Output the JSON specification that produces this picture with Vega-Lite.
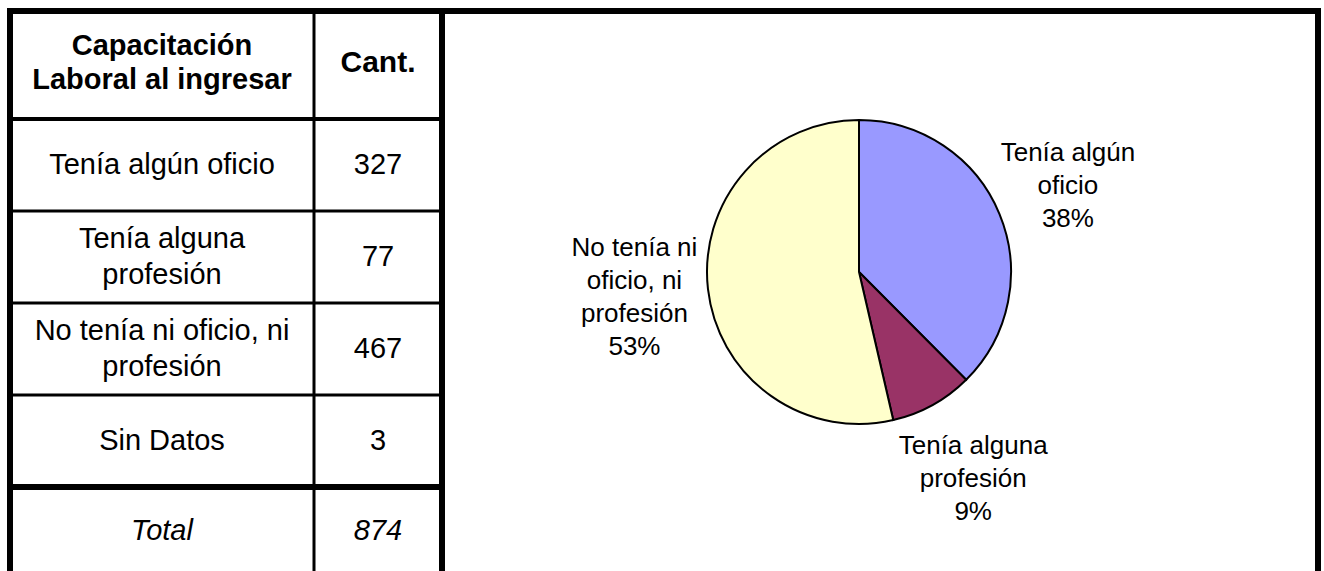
{
  "$schema": "https://vega.github.io/schema/vega-lite/v6.json",
  "padding": {"left": 5, "top": 6, "right": 5, "bottom": 0},
  "background": "white",
  "config": {"view": {"stroke": null}, "font": "Liberation Sans", "text": {"color": "black"}},
  "datasets": {
    "tabla": [
      {"capacitacion": "Tenía algún oficio", "texto": "Tenía algún oficio", "cant": 327},
      {"capacitacion": "Tenía alguna profesión", "texto": "Tenía alguna\nprofesión", "cant": 77},
      {"capacitacion": "No tenía ni oficio, ni profesión", "texto": "No tenía ni oficio, ni\nprofesión", "cant": 467},
      {"capacitacion": "Sin Datos", "texto": "Sin Datos", "cant": 3},
      {"capacitacion": "Total", "texto": "Total", "cant": 874}
    ],
    "torta": [
      {"capacitacion": "Tenía algún oficio", "cant": 327, "orden": 1, "etiqueta": "Tenía algún\noficio\n38%"},
      {"capacitacion": "Tenía alguna profesión", "cant": 77, "orden": 2, "etiqueta": "Tenía alguna\nprofesión\n9%"},
      {"capacitacion": "No tenía ni oficio, ni profesión", "cant": 467, "orden": 3, "etiqueta": "No tenía ni\noficio, ni\nprofesión\n53%"}
    ],
    "encabezados": [
      {"col1": "Capacitación\nLaboral al ingresar", "col2": "Cant."}
    ],
    "marco": [{}]
  },
  "columns": 3,
  "spacing": 0,
  "bounds": "flush",
  "concat": [
    {
      "width": 304,
      "height": 108,
      "data": {"name": "encabezados"},
      "layer": [
        {"mark": {"type": "rule", "color": "black", "strokeWidth": 6},
         "encoding": {"y": {"datum": 1, "type": "quantitative", "scale": {"domain": [0, 1], "nice": false}, "axis": null}}},
        {"mark": {"type": "rule", "color": "black", "strokeWidth": 4},
         "encoding": {"y": {"datum": 0, "type": "quantitative", "scale": {"domain": [0, 1], "nice": false}, "axis": null}}},
        {"mark": {"type": "rule", "color": "black", "strokeWidth": 6, "strokeCap": "square"},
         "encoding": {"x": {"datum": 0, "type": "quantitative", "scale": {"domain": [0, 1], "nice": false}, "axis": null}}},
        {"mark": {"type": "rule", "color": "black", "strokeWidth": 3},
         "encoding": {"x": {"datum": 1, "type": "quantitative", "scale": {"domain": [0, 1], "nice": false}, "axis": null}}},
        {"mark": {"type": "text", "fontSize": 29, "fontWeight": "bold", "lineHeight": 34, "lineBreak": "\n", "dy": -19},
         "encoding": {"text": {"field": "col1"}}}
      ]
    },
    {
      "width": 128,
      "height": 108,
      "data": {"name": "encabezados"},
      "layer": [
        {"mark": {"type": "rule", "color": "black", "strokeWidth": 6},
         "encoding": {"y": {"datum": 1, "type": "quantitative", "scale": {"domain": [0, 1], "nice": false}, "axis": null}}},
        {"mark": {"type": "rule", "color": "black", "strokeWidth": 4},
         "encoding": {"y": {"datum": 0, "type": "quantitative", "scale": {"domain": [0, 1], "nice": false}, "axis": null}}},
        {"mark": {"type": "text", "fontSize": 30, "fontWeight": "bold", "dy": -2},
         "encoding": {"text": {"field": "col2"}}}
      ]
    },
    {
      "width": 876,
      "height": 108,
      "data": {"name": "marco"},
      "layer": [
        {"mark": {"type": "rule", "color": "black", "strokeWidth": 6},
         "encoding": {"y": {"datum": 1, "type": "quantitative", "scale": {"domain": [0, 1], "nice": false}, "axis": null}}},
        {"mark": {"type": "rule", "color": "black", "strokeWidth": 6, "strokeCap": "square"},
         "encoding": {"x": {"datum": 0, "type": "quantitative", "scale": {"domain": [0, 1], "nice": false}, "axis": null}}},
        {"mark": {"type": "rule", "color": "black", "strokeWidth": 6, "strokeCap": "square"},
         "encoding": {"x": {"datum": 1, "type": "quantitative", "scale": {"domain": [0, 1], "nice": false}, "axis": null}}}
      ]
    },
    {
      "width": 304,
      "height": 460,
      "data": {"name": "tabla"},
      "layer": [
        {"mark": {"type": "rule", "color": "black"},
         "encoding": {
           "y": {"field": "capacitacion", "type": "nominal", "sort": null, "bandPosition": 0, "scale": {"paddingInner": 0, "paddingOuter": 0}, "axis": null},
           "strokeWidth": {"condition": {"test": "datum.capacitacion === 'Total'", "value": 6}, "value": 3}
         }},
        {"data": {"name": "marco"},
         "mark": {"type": "rule", "color": "black", "strokeWidth": 6},
         "encoding": {"x": {"datum": 0, "type": "quantitative", "scale": {"domain": [0, 1], "nice": false}, "axis": null}}},
        {"data": {"name": "marco"},
         "mark": {"type": "rule", "color": "black", "strokeWidth": 3},
         "encoding": {"x": {"datum": 1, "type": "quantitative", "scale": {"domain": [0, 1], "nice": false}, "axis": null}}},
        {"transform": [{"filter": "datum.capacitacion !== 'Total'"}],
         "mark": {"type": "text", "fontSize": 29, "lineHeight": 36, "lineBreak": "\n",
                  "dy": {"expr": "-(length(split(datum.texto, '\\n')) - 1) * 18"}},
         "encoding": {
           "y": {"field": "capacitacion", "type": "nominal", "sort": null, "axis": null},
           "text": {"field": "texto"}
         }},
        {"transform": [{"filter": "datum.capacitacion === 'Total'"}],
         "mark": {"type": "text", "fontSize": 29, "fontStyle": "italic", "dy": -2},
         "encoding": {
           "y": {"field": "capacitacion", "type": "nominal", "sort": null, "axis": null},
           "text": {"field": "texto"}
         }}
      ]
    },
    {
      "width": 128,
      "height": 460,
      "data": {"name": "tabla"},
      "layer": [
        {"mark": {"type": "rule", "color": "black"},
         "encoding": {
           "y": {"field": "capacitacion", "type": "nominal", "sort": null, "bandPosition": 0, "scale": {"paddingInner": 0, "paddingOuter": 0}, "axis": null},
           "strokeWidth": {"condition": {"test": "datum.capacitacion === 'Total'", "value": 6}, "value": 3}
         }},
        {"transform": [{"filter": "datum.capacitacion !== 'Total'"}],
         "mark": {"type": "text", "fontSize": 29},
         "encoding": {
           "y": {"field": "capacitacion", "type": "nominal", "sort": null, "axis": null},
           "text": {"field": "cant", "type": "quantitative", "format": "d"}
         }},
        {"transform": [{"filter": "datum.capacitacion === 'Total'"}],
         "mark": {"type": "text", "fontSize": 29, "fontStyle": "italic", "dy": -2},
         "encoding": {
           "y": {"field": "capacitacion", "type": "nominal", "sort": null, "axis": null},
           "text": {"field": "cant", "type": "quantitative", "format": "d"}
         }}
      ]
    },
    {
      "width": 876,
      "height": 460,
      "data": {"name": "torta"},
      "layer": [
        {"data": {"name": "marco"},
         "mark": {"type": "rule", "color": "black", "strokeWidth": 6},
         "encoding": {"x": {"datum": 0, "type": "quantitative", "scale": {"domain": [0, 1], "nice": false}, "axis": null}}},
        {"data": {"name": "marco"},
         "mark": {"type": "rule", "color": "black", "strokeWidth": 6},
         "encoding": {"x": {"datum": 1, "type": "quantitative", "scale": {"domain": [0, 1], "nice": false}, "axis": null}}},
        {"mark": {"type": "arc", "outerRadius": 152, "stroke": "black", "strokeWidth": 2, "xOffset": -21, "yOffset": -77},
         "encoding": {
           "theta": {"field": "cant", "type": "quantitative", "stack": true},
           "order": {"field": "orden", "type": "quantitative"},
           "color": {"field": "capacitacion", "type": "nominal", "legend": null,
             "scale": {"domain": ["Tenía algún oficio", "Tenía alguna profesión", "No tenía ni oficio, ni profesión"], "range": ["#9999FF", "#993366", "#FFFFCC"]}}
         }},
        {"mark": {"type": "text", "fontSize": 26, "lineHeight": 33, "lineBreak": "\n", "xOffset": -21, "yOffset": -77,
                  "radius": {"expr": "datum.orden === 2 ? 236 : 226"},
                  "dy": {"expr": "-(length(split(datum.etiqueta, '\\n')) - 1) * 16.5"}},
         "encoding": {
           "theta": {"field": "cant", "type": "quantitative", "stack": true},
           "order": {"field": "orden", "type": "quantitative"},
           "text": {"field": "etiqueta"}
         }}
      ]
    }
  ]
}
